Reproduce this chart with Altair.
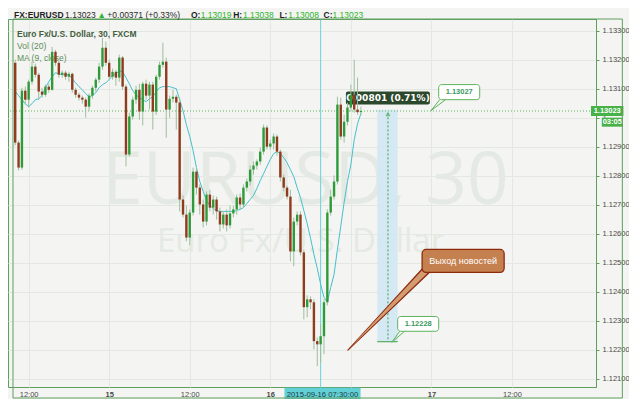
import altair as alt
import pandas as pd

# ---------------- data ----------------
first_bar_hour = 10.0      # first candle: 2015-09-14 10:00 (hours since 2015-09-14 00:00)
bar_hours = 0.5            # 30-minute candles

opens = [1.13189, 1.12914, 1.12828, 1.13093, 1.13062, 1.13124, 1.13176, 1.13148, 1.13090, 1.13079,
         1.13107, 1.13096, 1.13227, 1.13189, 1.13148, 1.13155, 1.13141, 1.13151, 1.13096, 1.13079,
         1.13069, 1.13062, 1.13038, 1.13076, 1.13103, 1.13131, 1.13176, 1.13241, 1.13189, 1.13141,
         1.13158, 1.13138, 1.13207, 1.13107, 1.12873, 1.13004, 1.13062, 1.13096, 1.13021, 1.13117,
         1.13076, 1.13114, 1.13021, 1.13141, 1.13182, 1.13193, 1.13028, 1.13065, 1.13072, 1.13052,
         1.12718, 1.12666, 1.12587, 1.12673, 1.12814, 1.12759, 1.12701, 1.12642, 1.12735, 1.12690,
         1.12718, 1.12677, 1.12632, 1.12666, 1.12629, 1.12670, 1.12684, 1.12725, 1.12701, 1.12759,
         1.12780, 1.12821, 1.12835, 1.12849, 1.12883, 1.12966, 1.12900, 1.12911, 1.12935, 1.12883,
         1.12794, 1.12759, 1.12728, 1.12539, 1.12642, 1.12666, 1.12536, 1.12347, 1.12374, 1.12364,
         1.12230, 1.12219, 1.12247, 1.12364, 1.12673, 1.12728, 1.12780, 1.13045, 1.12935, 1.12986,
         1.13035, 1.13079, 1.13028, 1.13019]
highs = [1.13200, 1.12921, 1.13103, 1.13107, 1.13131, 1.13193, 1.13186, 1.13155, 1.13103, 1.13114,
         1.13117, 1.13244, 1.13234, 1.13196, 1.13162, 1.13162, 1.13158, 1.13155, 1.13103, 1.13086,
         1.13076, 1.13069, 1.13083, 1.13110, 1.13138, 1.13189, 1.13275, 1.13262, 1.13200, 1.13169,
         1.13165, 1.13217, 1.13213, 1.13114, 1.13017, 1.13072, 1.13110, 1.13117, 1.13124, 1.13131,
         1.13124, 1.13124, 1.13148, 1.13193, 1.13258, 1.13207, 1.13076, 1.13096, 1.13079, 1.13069,
         1.12732, 1.12697, 1.12684, 1.12828, 1.12825, 1.12770, 1.12718, 1.12746, 1.12752, 1.12732,
         1.12728, 1.12690, 1.12677, 1.12684, 1.12697, 1.12697, 1.12735, 1.12739, 1.12770, 1.12790,
         1.12835, 1.12849, 1.12856, 1.12897, 1.12976, 1.12973, 1.12924, 1.12945, 1.12942, 1.12890,
         1.12804, 1.12766, 1.12752, 1.12656, 1.12677, 1.12677, 1.12546, 1.12388, 1.12384, 1.12374,
         1.12243, 1.12288, 1.12374, 1.12684, 1.12752, 1.12801, 1.13072, 1.13069, 1.13010, 1.13052,
         1.13114, 1.13200, 1.13138, 1.13038]
lows = [1.12904, 1.12818, 1.12821, 1.13045, 1.13035, 1.13114, 1.13138, 1.13062, 1.13069, 1.13072,
        1.13086, 1.13093, 1.13179, 1.13138, 1.13138, 1.13131, 1.13124, 1.13086, 1.13069, 1.13059,
        1.13048, 1.13000, 1.13024, 1.13065, 1.13090, 1.13120, 1.13165, 1.13179, 1.13131, 1.13131,
        1.13110, 1.13124, 1.13096, 1.12832, 1.12866, 1.12993, 1.13048, 1.12993, 1.12973, 1.13062,
        1.13028, 1.12959, 1.13010, 1.13131, 1.13172, 1.12931, 1.13000, 1.13052, 1.12959, 1.12677,
        1.12656, 1.12574, 1.12560, 1.12663, 1.12735, 1.12666, 1.12622, 1.12629, 1.12677, 1.12666,
        1.12649, 1.12608, 1.12618, 1.12608, 1.12618, 1.12656, 1.12666, 1.12684, 1.12690, 1.12746,
        1.12766, 1.12804, 1.12821, 1.12838, 1.12873, 1.12890, 1.12890, 1.12890, 1.12869, 1.12780,
        1.12746, 1.12718, 1.12505, 1.12488, 1.12629, 1.12525, 1.12305, 1.12312, 1.12340, 1.12202,
        1.12144, 1.12157, 1.12185, 1.12353, 1.12663, 1.12718, 1.12770, 1.12924, 1.12914, 1.12973,
        1.13021, 1.13017, 1.13010, 1.13008]
closes = [1.12914, 1.12828, 1.13093, 1.13062, 1.13124, 1.13176, 1.13148, 1.13090, 1.13079, 1.13107,
          1.13096, 1.13227, 1.13189, 1.13148, 1.13155, 1.13141, 1.13151, 1.13096, 1.13079, 1.13069,
          1.13062, 1.13038, 1.13076, 1.13103, 1.13131, 1.13176, 1.13241, 1.13189, 1.13141, 1.13158,
          1.13138, 1.13207, 1.13107, 1.12873, 1.13004, 1.13062, 1.13096, 1.13021, 1.13117, 1.13076,
          1.13114, 1.13021, 1.13141, 1.13182, 1.13193, 1.13028, 1.13065, 1.13072, 1.13052, 1.12718,
          1.12666, 1.12587, 1.12673, 1.12814, 1.12759, 1.12701, 1.12642, 1.12735, 1.12690, 1.12718,
          1.12677, 1.12632, 1.12666, 1.12629, 1.12670, 1.12684, 1.12725, 1.12701, 1.12759, 1.12780,
          1.12821, 1.12835, 1.12849, 1.12883, 1.12966, 1.12900, 1.12911, 1.12935, 1.12883, 1.12794,
          1.12759, 1.12728, 1.12539, 1.12642, 1.12666, 1.12536, 1.12347, 1.12374, 1.12364, 1.12230,
          1.12219, 1.12247, 1.12364, 1.12673, 1.12728, 1.12780, 1.13045, 1.12935, 1.12986, 1.13035,
          1.13079, 1.13028, 1.13019, 1.13023]
ma9 = [1.13090, 1.13076, 1.13062, 1.13048, 1.13038, 1.13048, 1.13062, 1.13065, 1.13076, 1.13103,
       1.13124, 1.13141, 1.13155, 1.13151, 1.13148, 1.13148, 1.13148, 1.13134, 1.13120, 1.13107,
       1.13096, 1.13083, 1.13072, 1.13076, 1.13086, 1.13103, 1.13114, 1.13120, 1.13131, 1.13145,
       1.13151, 1.13162, 1.13158, 1.13138, 1.13117, 1.13093, 1.13079, 1.13069, 1.13062, 1.13055,
       1.13065, 1.13072, 1.13090, 1.13103, 1.13107, 1.13107, 1.13107, 1.13103, 1.13100, 1.13062,
       1.13024, 1.12976, 1.12935, 1.12887, 1.12828, 1.12780, 1.12746, 1.12715, 1.12697, 1.12687,
       1.12680, 1.12677, 1.12677, 1.12677, 1.12677, 1.12677, 1.12680, 1.12684, 1.12690, 1.12704,
       1.12718, 1.12732, 1.12756, 1.12783, 1.12807, 1.12832, 1.12856, 1.12876, 1.12883, 1.12876,
       1.12862, 1.12845, 1.12821, 1.12797, 1.12759, 1.12725, 1.12680, 1.12635, 1.12584, 1.12529,
       1.12481, 1.12426, 1.12381, 1.12364, 1.12415, 1.12460, 1.12546, 1.12625, 1.12708, 1.12780,
       1.12838, 1.12924, 1.12979, 1.13014]

x_tick_hours = [12, 24, 36, 48, 60, 72, 84]
x_tick_labels = ["12:00", "15", "12:00", "16", "", "17", "12:00"]
day_ticks = [24, 48, 72]
y_ticks = [1.121, 1.122, 1.123, 1.124, 1.125, 1.126, 1.127,
           1.128, 1.129, 1.130, 1.131, 1.132, 1.133]
y_tick_partly_hidden = 1.130   # its label is mostly covered by the timer tag

last_price = 1.13023
last_price_text = "1.13023"
timer_text = "03:05"
crosshair_hour = 55.5
crosshair_text = "2015-09-16 07:30:00"
measure_top = 1.13027
measure_bottom = 1.12228
measure_text = "0.00801 (0.71%)"
news_text = "Выход новостей"
legend_lines = ["Euro Fx/U.S. Dollar, 30, FXCM", "Vol (20)", "MA (9, close)"]
watermark_lines = ["EURUSD, 30", "Euro Fx/U.S. Dollar"]

# header pieces: (text, kind)
header_pieces = [("FX:EURUSD", "label"), ("1.13023", "plain"), ("\u25B2", "value"),
                 ("+0.00371 (+0.33%)", "plain"), ("O:", "label"), ("1.13019", "value"),
                 ("H:", "label"), ("1.13038", "value"), ("L:", "label"), ("1.13008", "value"),
                 ("C:", "label"), ("1.13023", "value")]

# ---------------- layout / style ----------------
X_DOM = [9.67, 95.78]
Y_DOM = [1.12072, 1.13340]
X_RIGHT = 100.61          # right edge of price-axis band (outside the plot)
P_FRAME_BOTTOM = 1.12034  # bottom edge of time-axis band (outside the plot)
P_XAXIS_TOP = 1.12069
FONT = "Liberation Sans"
FRAME = "#5E9E5E"
xs = alt.Scale(domain=X_DOM, nice=False, zero=False)
ys = alt.Scale(domain=Y_DOM, nice=False, zero=False)

label_expr = "''"
for v, lab in reversed(list(zip(x_tick_hours, x_tick_labels))):
    label_expr = f"datum.value == {v} ? '{lab}' : ({label_expr})"

x_axis = alt.Axis(values=x_tick_hours, labelExpr=label_expr, title=None, grid=True,
                  gridColor="#E3E8E2", domain=False, ticks=False, labelFont=FONT,
                  labelFontSize=7.5, labelColor="#4A4A4A", labelPadding=3, zindex=0,
                  labelFlush=False,
                  labelFontWeight={"condition": {"test": f"indexof({day_ticks}, datum.value) >= 0",
                                                 "value": "bold"}, "value": "normal"})
y_axis = alt.Axis(orient="right", values=y_ticks, format=".5f", title=None, grid=True,
                  gridColor="#E3E8E2", domain=True, domainColor=FRAME, ticks=True, tickSize=3,
                  tickColor=FRAME, labelFont=FONT, labelFontSize=7.5, labelColor="#4A4A4A",
                  labelPadding=3, zindex=0, labelFlush=False,
                  labelExpr=f"abs(datum.value - {y_tick_partly_hidden}) < 0.00001 ? '1.' : datum.label")


def X(f):
    return alt.X(f, type="quantitative", scale=xs, axis=x_axis)


def Y(f):
    return alt.Y(f, type="quantitative", scale=ys, axis=y_axis)


n = len(closes)
candles = pd.DataFrame({
    "t": [first_bar_hour + bar_hours * i for i in range(n)],
    "open": opens, "high": highs, "low": lows, "close": closes, "ma": ma9,
})
candles["dir"] = ["up" if c >= o else "down" for o, c in zip(opens, closes)]

layers = []

# watermark
wm = pd.DataFrame({"t": [53.24, 52.51], "p": [1.12701, 1.12536],
                   "text": watermark_lines, "fs": [73, 33]})
layers.append(alt.Chart(wm).mark_text(font="Open Sans", color="#E4EAE3", align="center",
                                      baseline="alphabetic").encode(
    x=X("t"), y=Y("p"), text="text:N", size=alt.Size("fs:Q", scale=None)))

# measure band
layers.append(alt.Chart(pd.DataFrame({"t": [63.93], "t2": [66.98], "p": [measure_top],
                                      "p2": [measure_bottom]}))
              .mark_rect(color="#D2E8F5", opacity=0.9)
              .encode(x=X("t"), x2="t2", y=Y("p"), y2="p2"))

# current price dotted line
layers.append(alt.Chart(pd.DataFrame({"p": [last_price]}))
              .mark_rule(color="#5DB65D", strokeDash=[1, 2], strokeWidth=1)
              .encode(y=Y("p")))

# crosshair
layers.append(alt.Chart(pd.DataFrame({"t": [crosshair_hour], "p": [Y_DOM[1]], "p2": [P_XAXIS_TOP]}))
              .mark_rule(color="#6CD2DA", strokeWidth=1)
              .encode(x=X("t"), y=Y("p"), y2="p2"))

# moving average
layers.append(alt.Chart(candles).mark_line(color="#45C0CC", strokeWidth=1)
              .encode(x=X("t"), y=Y("ma")))

# dark measure label (under candles)
layers.append(alt.Chart(pd.DataFrame({"t": [59.27], "t2": [71.78], "p": [1.13090], "p2": [1.13045]}))
              .mark_rect(color="#2C482C", cornerRadius=2)
              .encode(x=X("t"), x2="t2", y=Y("p"), y2="p2"))
layers.append(alt.Chart(pd.DataFrame({"t": [65.53], "p": [1.13067], "text": [measure_text]}))
              .mark_text(font="DejaVu Sans", fontWeight="bold", fontSize=9, color="white",
                         align="center", baseline="middle")
              .encode(x=X("t"), y=Y("p"), text="text:N"))

# legend texts
leg = pd.DataFrame({"t": [10.26] * 3, "p": [1.13288, 1.13247, 1.13206], "text": legend_lines})
layers.append(alt.Chart(leg.iloc[:1]).mark_text(font=FONT, fontSize=8.5, fontWeight="bold",
                                               color="#42603F", align="left")
              .encode(x=X("t"), y=Y("p"), text="text:N"))
layers.append(alt.Chart(leg.iloc[1:]).mark_text(font=FONT, fontSize=8.5, color="#5E8E5A",
                                               align="left")
              .encode(x=X("t"), y=Y("p"), text="text:N"))

# candles
layers.append(alt.Chart(candles).mark_rule(color="#9DBE9D", strokeWidth=1).encode(
    x=X("t"), y=Y("low"), y2="high"))
layers.append(alt.Chart(candles).mark_bar(width=2.4).encode(
    x=X("t"), y=Y("open"), y2="close",
    color=alt.Color("dir:N", scale=alt.Scale(domain=["up", "down"], range=["#2F9A3A", "#8E3B1E"]),
                    legend=None)))

# measure tool lines
layers.append(alt.Chart(pd.DataFrame({"t": [65.53], "p": [1.13015], "p2": [measure_bottom]}))
              .mark_rule(color="#3FA03F", strokeDash=[2, 2])
              .encode(x=X("t"), y=Y("p"), y2="p2"))
layers.append(alt.Chart(pd.DataFrame({"t": [65.53], "p": [1.13012]}))
              .mark_point(shape="triangle-up", filled=False, size=14, color="#3FA03F", strokeWidth=1)
              .encode(x=X("t"), y=Y("p")))
layers.append(alt.Chart(pd.DataFrame({"t": [63.93], "t2": [66.98], "p": [measure_bottom]}))
              .mark_rule(color="#3FA03F", strokeWidth=1)
              .encode(x=X("t"), x2="t2", y=Y("p")))

# price callouts
ptr = pd.DataFrame({
    "edge": ["a1", "a1", "a2", "a2", "b1", "b1", "b2", "b2"],
    "t": [71.93, 73.24, 71.93, 74.11, 66.11, 67.27, 66.11, 68.00],
    "p": [1.13024, 1.13062, 1.13024, 1.13062, 1.12226, 1.12264, 1.12226, 1.12264],
})
layers.append(alt.Chart(ptr).mark_line(color="#5CB35C", strokeWidth=1)
              .encode(x=X("t"), y=Y("p"), detail="edge:N"))
boxes = pd.DataFrame({"t": [73.09, 66.98], "t2": [79.20, 73.09], "p": [1.13114, 1.12315],
                      "p2": [1.13062, 1.12264], "tc": [76.15, 70.04], "pc": [1.13088, 1.12290],
                      "text": ["1.13027", "1.12228"]})
layers.append(alt.Chart(boxes).mark_rect(fill="white", stroke="#5CB35C", strokeWidth=1, cornerRadius=3)
              .encode(x=X("t"), x2="t2", y=Y("p"), y2="p2"))
layers.append(alt.Chart(boxes).mark_text(font=FONT, fontSize=7.5, fontWeight="bold", color="#3C9A60",
                                         align="center", baseline="middle")
              .encode(x=X("tc"), y=Y("pc"), text="text:N"))

# news callout
wedge_dark = pd.DataFrame({"t": [59.56, 71.35], "p": [1.12199, 1.12477], "w": [1.2, 9]})
wedge_light = pd.DataFrame({"t": [59.95, 71.35], "p": [1.12209, 1.12477], "w": [0.2, 6]})
layers.append(alt.Chart(wedge_dark).mark_trail(color="#8E2A0C")
              .encode(x=X("t"), y=Y("p"), size=alt.Size("w:Q", scale=None)))
layers.append(alt.Chart(wedge_light).mark_trail(color="#D29B70")
              .encode(x=X("t"), y=Y("p"), size=alt.Size("w:Q", scale=None)))
layers.append(alt.Chart(pd.DataFrame({"t": [70.62], "t2": [82.84], "p": [1.12546], "p2": [1.12467]}))
              .mark_rect(fill="#C4814F", stroke="#8E2A0C", strokeWidth=1.3, cornerRadius=4)
              .encode(x=X("t"), x2="t2", y=Y("p"), y2="p2"))
layers.append(alt.Chart(pd.DataFrame({"t": [76.73], "p": [1.12506], "text": [news_text]}))
              .mark_text(font=FONT, fontSize=9, color="white", align="center", baseline="middle")
              .encode(x=X("t"), y=Y("p"), text="text:N"))

# price-axis tags
tags = pd.DataFrame({"t": [95.78, 97.39], "t2": [X_RIGHT, 100.5], "p": [1.13040, 1.13000],
                     "p2": [1.13006, 1.12969], "tc": [98.2, 98.95], "pc": [1.13023, 1.12985],
                     "text": [last_price_text, timer_text]})
layers.append(alt.Chart(tags).mark_rect(color="#47B247")
              .encode(x=X("t"), x2="t2", y=Y("p"), y2="p2"))
layers.append(alt.Chart(tags).mark_text(font=FONT, fontSize=7.5, fontWeight="bold", color="white",
                                        align="center", baseline="middle")
              .encode(x=X("tc"), y=Y("pc"), text="text:N"))

# crosshair time tag
layers.append(alt.Chart(pd.DataFrame({"t": [50.11], "t2": [61.45], "p": [P_XAXIS_TOP], "p2": [1.12020]}))
              .mark_rect(color="#62D0D7")
              .encode(x=X("t"), x2="t2", y=Y("p"), y2="p2"))
layers.append(alt.Chart(pd.DataFrame({"t": [55.78], "p": [1.12046], "text": [crosshair_text]}))
              .mark_text(font=FONT, fontSize=7.7, color="#1C3B3E", align="center", baseline="middle")
              .encode(x=X("t"), y=Y("p"), text="text:N"))

# outer frame
layers.append(alt.Chart(pd.DataFrame({"t": [X_DOM[0]], "t2": [100.45], "p": [Y_DOM[1]],
                                      "p2": [P_FRAME_BOTTOM]}))
              .mark_rect(fillOpacity=0, stroke=FRAME, strokeWidth=1)
              .encode(x=X("t"), x2="t2", y=Y("p"), y2="p2"))

# header line
hdr_t = [9.816, 17.431, 22.264, 23.728, 36.176, 37.640, 42.473, 43.937, 49.355, 50.673, 55.945, 57.263]
hdr = pd.DataFrame({"t": hdr_t, "p": [1.13354] * len(hdr_t),
                    "text": [h[0] for h in header_pieces], "kind": [h[1] for h in header_pieces]})
layers.append(alt.Chart(hdr[hdr.kind == "label"]).mark_text(font=FONT, fontSize=8.5, fontWeight="bold",
                                                           color="#1E1E1E", align="left")
              .encode(x=X("t"), y=Y("p"), text="text:N"))
layers.append(alt.Chart(hdr[hdr.kind == "plain"]).mark_text(font=FONT, fontSize=8.5,
                                                           color="#2A2A2A", align="left")
              .encode(x=X("t"), y=Y("p"), text="text:N"))
layers.append(alt.Chart(hdr[hdr.kind == "value"]).mark_text(font=FONT, fontSize=8.5,
                                                           color="#2DB52D", align="left")
              .encode(x=X("t"), y=Y("p"), text="text:N"))

chart = alt.layer(*layers).properties(
    width=588, height=368,
    padding={"left": 0, "top": 11, "right": 33, "bottom": 12},
    autosize=alt.AutoSizeParams(type="none"),
    background="#F4F4F2",
).configure_view(stroke=FRAME, strokeWidth=1)

chart.save("out.html", embed_options={"renderer": "svg", "actions": False})
